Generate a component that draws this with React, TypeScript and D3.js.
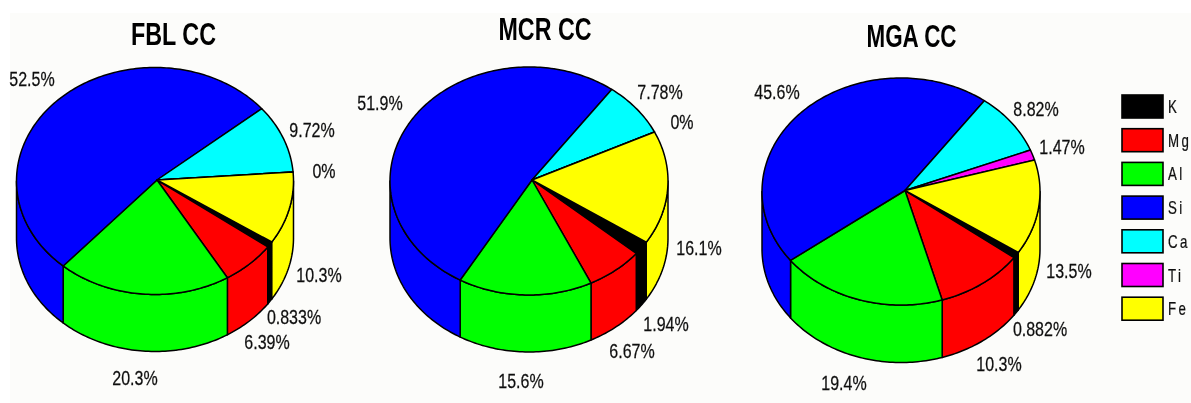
import React from "react";
import * as d3 from "d3";

// ---------- data ----------
const elements = ["K", "Mg", "Al", "Si", "Ca", "Ti", "Fe"];
const colors = ["#000000", "#ff0000", "#00ff00", "#0000ff", "#00ffff", "#ff00ff", "#ffff00"];
const titles = ["FBL CC", "MCR CC", "MGA CC"];
const fblValues = [0.833, 6.39, 20.3, 52.5, 9.72, 0, 10.3];
const mcrValues = [1.94, 6.67, 15.6, 51.9, 7.78, 0, 16.1];
const mgaValues = [0.882, 10.3, 19.4, 45.6, 8.82, 1.47, 13.5];
const seriesValues = [fblValues, mcrValues, mgaValues];

// ---------- layout ----------
const W = 1191, H = 403;
const START_DEG = 122.5;
const pieBoxes = [
  { cx: 155, cy: 181, rx: 138.5, ry: 113.5, depth: 57, hx: 2, hy: -1 },
  { cx: 529, cy: 181, rx: 139, ry: 114, depth: 57, hx: 3, hy: -1 },
  { cx: 901, cy: 191.5, rx: 139, ry: 113.5, depth: 57.5, hx: 4, hy: -1 },
];
const titleBoxes = [
  { x: 173.5, y: 45, w: 85 },
  { x: 545, y: 40, w: 93 },
  { x: 911.5, y: 47, w: 90 },
];
// label centres, in element order
const labelCentres = [
  [[294, 317], [267, 342], [135, 378], [32, 79], [312, 130], [324, 171], [319, 275]],
  [[666, 324], [632, 351], [521, 381], [380, 103], [660, 92], [682, 122], [699, 248]],
  [[1040, 329], [999, 364], [844, 383], [777, 92], [1036, 109], [1062, 147], [1069, 271]],
];
const legendX = 1122, legendTop = 95, legendStep = 33.7, legendW = 41, legendH = 23;
const FONT = '"Liberation Sans", Arial, sans-serif';

const pieGen = d3.pie<number>().sort(null).value((d) => d)
  .startAngle((START_DEG * Math.PI) / 180)
  .endAngle((START_DEG * Math.PI) / 180 + 2 * Math.PI);

const lineGen = d3.line();

function arcPoints(b: any, a0: number, a1: number, dy: number): [number, number][] {
  const n = Math.max(2, Math.ceil(Math.abs(a1 - a0) / 0.02));
  const k = d3.scaleLinear().domain([0, n]).range([a0, a1]);
  return d3.range(n + 1).map((i) => {
    const a = k(i);
    return [b.cx + b.rx * Math.sin(a), b.cy - b.ry * Math.cos(a) + dy] as [number, number];
  });
}

function norm(a: number) {
  const t = 2 * Math.PI;
  return ((a % t) + t) % t;
}

function sidePieces(a0: number, a1: number) {
  // visible (front) part of the wall runs from 90 deg to 270 deg clockwise from the top
  const out: [number, number][] = [];
  const lo = Math.PI / 2, hi = (3 * Math.PI) / 2;
  const base = norm(a0);
  const end = base + (a1 - a0);
  for (const shift of [0, 2 * Math.PI]) {
    const s = Math.max(base, lo + shift);
    const e = Math.min(end, hi + shift);
    if (e > s) out.push([s, e]);
  }
  return out;
}

function Pie({ index }: { index: number }) {
  const b = pieBoxes[index];
  const arcs = pieGen(seriesValues[index]);
  return (
    <g stroke="#000" strokeWidth={1.5} strokeLinejoin="round">
      {arcs.flatMap((s, i) =>
        sidePieces(s.startAngle, s.endAngle).map(([a0, a1], j) => {
          const pts = [...arcPoints(b, a0, a1, 0), ...arcPoints(b, a1, a0, b.depth)];
          return <path key={`s${i}-${j}`} d={lineGen(pts) + "Z"} fill={colors[i]} />;
        })
      )}
      {arcs.map((s, i) => {
        const hub: [number, number] = [b.cx + b.hx, b.cy + b.hy];
        const pts = [hub, ...arcPoints(b, s.startAngle, s.endAngle, 0)];
        return <path key={`t${i}`} d={lineGen(pts) + "Z"} fill={colors[i]} />;
      })}
    </g>
  );
}

export default function App() {
  return (
    <svg width={W} height={H} viewBox={`0 0 ${W} ${H}`}
      style={{ position: "absolute", left: 0, top: 0, display: "block", background: "#fff" }}>
      <defs>
        <filter id="soft" x="0" y="0" width="100%" height="100%">
          <feGaussianBlur stdDeviation="0.45" />
        </filter>
      </defs>
      <rect x={10} y={13} width={W - 10} height={H - 13} fill="#fcfcfa" />
      <g filter="url(#soft)">
        {titles.map((t, i) => (
          <text key={t} x={titleBoxes[i].x} y={titleBoxes[i].y} textAnchor="middle" fontFamily={FONT}
            fontWeight="bold" fontSize={32} textLength={titleBoxes[i].w} lengthAdjust="spacingAndGlyphs" fill="#000">
            {t}
          </text>
        ))}
        {titles.map((t, i) => <Pie key={t} index={i} />)}
        {seriesValues.map((vals, i) =>
          vals.map((v, j) => (
            <text key={`${i}-${j}`}
              transform={`translate(${labelCentres[i][j][0]},${labelCentres[i][j][1] + 7}) scale(0.8,1)`}
              textAnchor="middle" fontFamily={FONT} fontSize={20} fill="#111" stroke="#111" strokeWidth={0.25}>
              {`${v}%`}
            </text>
          ))
        )}
        {elements.map((e, i) => (
          <g key={e}>
            <rect x={legendX} y={legendTop + i * legendStep} width={legendW} height={legendH}
              fill={colors[i]} stroke="#000" strokeWidth={1.6} />
            <text transform={`translate(${legendX + 46},${legendTop + i * legendStep + 18}) scale(0.7,1)`}
              fontFamily={FONT} fontSize={19} letterSpacing={3.5} fill="#111" stroke="#111" strokeWidth={0.25}>
              {e}
            </text>
          </g>
        ))}
      </g>
    </svg>
  );
}
